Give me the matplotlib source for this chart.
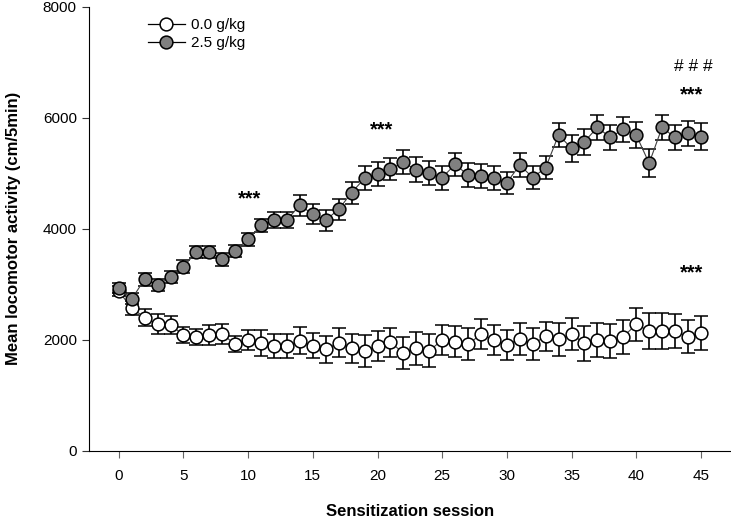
import numpy as np
import matplotlib
matplotlib.use("Agg")
from matplotlib import pyplot as plt
from matplotlib.lines import Line2D

plt.rcParams['font.family'] = ['Liberation Sans', 'DejaVu Sans']

sessions = np.arange(0, 46)

# 0.0 g/kg group (open circles)
ctrl_mean = [2870, 2570, 2400, 2280, 2265, 2085, 2045, 2085, 2095, 1920,
             1995, 1935, 1885, 1885, 1980, 1890, 1825, 1945, 1845, 1795,
             1890, 1950, 1765, 1845, 1800, 1995, 1965, 1920, 2095, 1995,
             1905, 2015, 1920, 2065, 2005, 2100, 1935, 1995, 1975, 2055,
             2275, 2155, 2155, 2155, 2055, 2125]
ctrl_sem = [90, 120, 150, 175, 160, 145, 140, 180, 180, 150,
            185, 235, 215, 215, 245, 225, 245, 265, 265, 290,
            265, 260, 285, 295, 295, 270, 280, 285, 270, 270,
            265, 290, 285, 260, 300, 285, 310, 310, 300, 305,
            305, 330, 330, 300, 300, 305]

# 2.5 g/kg group (grey circles)
eth_mean = [2925, 2735, 3090, 2985, 3130, 3315, 3585, 3575, 3450, 3605,
            3810, 4060, 4155, 4160, 4425, 4260, 4155, 4350, 4650, 4910,
            4985, 5075, 5195, 5060, 5000, 4920, 5160, 4965, 4950, 4910,
            4830, 5150, 4920, 5100, 5690, 5450, 5570, 5825, 5645, 5795,
            5690, 5180, 5825, 5645, 5720, 5660]
eth_sem = [90, 100, 120, 110, 110, 120, 110, 110, 120, 110,
           120, 120, 150, 150, 190, 180, 190, 190, 200, 220,
           210, 200, 215, 225, 220, 215, 210, 215, 210, 215,
           200, 210, 210, 205, 220, 240, 235, 230, 225, 225,
           230, 250, 230, 225, 225, 240]

legend_labels = ["0.0 g/kg", "2.5 g/kg"]
face_colors = ['white', '#808080']

# significance marks: (session, value, text)
marks = [(10.1, 4530, "***"), (20.3, 5775, "***"), (44.3, 6410, "***"),
         (44.3, 3200, "***")]
hash_mark = (44.4, 6920, "# # #")

fig = plt.figure(figsize=(7.31, 5.21), dpi=100)
ax = fig.add_axes([0.1222, 0.1349, 0.8764, 0.8522])

ebar_kw = dict(ecolor='black', elinewidth=1.2, capsize=4.8, capthick=1.2,
               lw=0.8, color='#404040', marker='o', markersize=9.2,
               markeredgecolor='black', markeredgewidth=1.1)

ax.errorbar(sessions, ctrl_mean, yerr=ctrl_sem, markerfacecolor=face_colors[0],
            zorder=3, **ebar_kw)
ax.errorbar(sessions, eth_mean, yerr=eth_sem, markerfacecolor=face_colors[1],
            zorder=4, **ebar_kw)

for x, y, t in marks:
    ax.text(x, y, t, ha='center', va='center', fontsize=14.5, fontweight='bold')
ax.text(hash_mark[0], hash_mark[1], hash_mark[2], ha='center', va='center',
        fontsize=12.5)

ax.set_xlim(-2.28, 47.25)
ax.set_ylim(0, 8000)
ax.set_xticks(np.arange(0, 46, 5))
ax.set_yticks(np.arange(0, 8001, 2000))
ax.spines['top'].set_visible(False)
ax.spines['right'].set_visible(False)
ax.tick_params(axis='x', direction='out', length=5, color='#666666',
               labelsize=11, pad=8)
ax.tick_params(axis='y', direction='out', length=5, color='#333333',
               labelsize=11, pad=4)

ax.set_xlabel("Sensitization session", fontsize=12, fontweight='bold',
              labelpad=15)
ax.set_ylabel("Mean locomotor activity (cm/5min)", fontsize=12,
              fontweight='bold', labelpad=16)

handles = [Line2D([], [], color='black', lw=0.9, marker='o', markersize=9.2,
                  markerfacecolor=fc, markeredgecolor='black',
                  markeredgewidth=1.1) for fc in face_colors]
ax.legend(handles, legend_labels, loc='upper left',
          bbox_to_anchor=(0.07, 1.005), frameon=False, fontsize=11,
          handlelength=2.4, handletextpad=0.45, labelspacing=0.25)

fig.savefig("out.png", dpi=100)
